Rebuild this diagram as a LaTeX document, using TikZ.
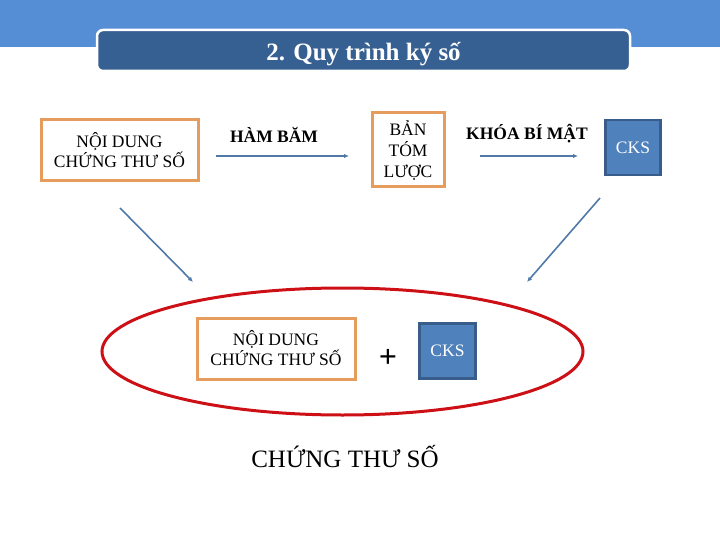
\documentclass[tikz,border=0pt]{standalone}
\usepackage{fontspec}
\setmainfont{Liberation Serif}
\usetikzlibrary{positioning,arrows.meta,shapes.geometric}
\definecolor{bandblue}{HTML}{558ED5}
\definecolor{titleblue}{HTML}{376092}
\definecolor{boxorange}{HTML}{E59C5C}
\definecolor{ckshue}{HTML}{4F81BD}
\definecolor{cksedge}{HTML}{385D8A}
\definecolor{linkblue}{HTML}{5079A8}
\definecolor{ringred}{HTML}{CC1016}

\begin{document}
\begin{tikzpicture}[x=1pt,y=-1pt,
    docbox/.style={rectangle,draw=boxorange,line width=3pt,align=center,font=\fontsize{17.5}{20}\selectfont,inner sep=0pt},
    cksbox/.style={rectangle,draw=cksedge,fill=ckshue,line width=2.6pt,text=white,minimum width=55pt,minimum height=55pt,font=\fontsize{17.5}{20}\selectfont},
    steplabel/.style={font=\bfseries\fontsize{17.5}{20}\selectfont},
    link/.style={draw=linkblue,line width=1.6pt,-{Latex[length=5pt,width=4.5pt]}}]
\useasboundingbox (0,0) rectangle (720,540);
% top band and title
\fill[bandblue] (0,0) rectangle (720,47);
\node[rectangle,rounded corners=6pt,draw=white,line width=2.5pt,fill=titleblue,
    minimum width=533pt,minimum height=41pt] (title) at (363.5,50.5) {};
\node[text=white,font=\bfseries\fontsize{25}{28}\selectfont] (titletext)
    at ([yshift=-3.5pt]title.center) {2. Quy trình ký số};
% first row
\node[docbox,minimum width=157pt,minimum height=61pt] (noidung) at (119.5,150.5) {NỘI DUNG\\CHỨNG THƯ SỐ};
\node[docbox,minimum width=72pt,minimum height=74pt,font=\fontsize{17.5}{21}\selectfont] (bantom) at (408,150) {BẢN\\TÓM\\LƯỢC};
\node[cksbox] (cks) at (633,147.5) {CKS};
\node[steplabel] (hambam) at (274,135) {HÀM BĂM};
\node[steplabel] (khoa) at (527,134) {KHÓA BÍ MẬT};
\coordinate (h1) at (216,156);
\coordinate (h2) at (349,156);
\coordinate (k1) at (480,156);
\coordinate (k2) at (578,156);
\draw[link] (h1) -- (h2);
\draw[link] (k1) -- (k2);
% result
\node[ellipse,draw=ringred,line width=3pt,minimum width=481pt,minimum height=127pt] (ring) at (342.5,351.5) {};
\node[docbox,minimum width=158pt,minimum height=61pt] (noidung2) at (276,348.5) {NỘI DUNG\\CHỨNG THƯ SỐ};
\node[font=\bfseries\fontsize{32}{32}\selectfont] (plus) at (388,358) {+};
\node[cksbox,minimum width=56pt,minimum height=55pt] (cks2) at (447.5,351) {CKS};
\node[font=\fontsize{25}{28}\selectfont] (chungthu) at (345,457) {CHỨNG THƯ SỐ};
\coordinate (d1) at (120,208);
\coordinate (d2) at (193,282);
\coordinate (d3) at (600,198);
\coordinate (d4) at (527,282);
\draw[link] (d1) -- (d2);
\draw[link] (d3) -- (d4);
\end{tikzpicture}
\end{document}
